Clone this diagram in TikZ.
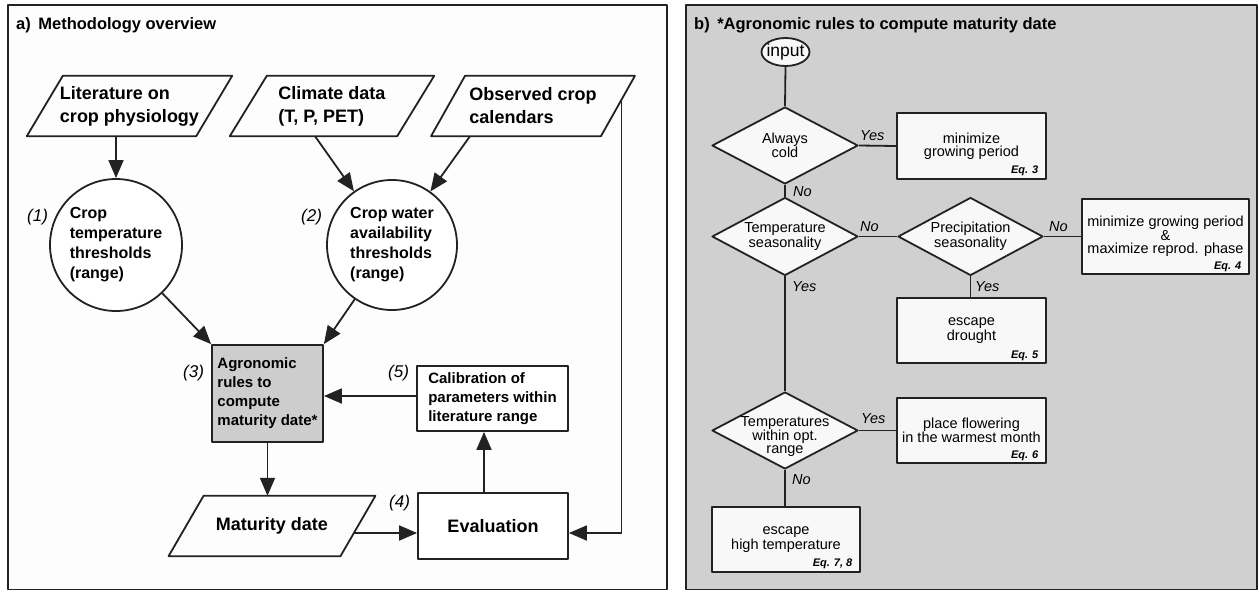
\documentclass[tikz,border=0pt]{standalone}
\usepackage{fontspec}
\setmainfont{Liberation Sans}
\usetikzlibrary{arrows.meta,shapes.geometric,calc}
\definecolor{lc}{HTML}{222222}
\definecolor{bga}{HTML}{FDFDFD}
\definecolor{bgb}{HTML}{D0D0D0}
\definecolor{agrf}{HTML}{CDCDCD}
\definecolor{boxfill}{HTML}{F8F8F8}
\newcommand\drawpara[2]{\draw[ln] ($(#1.north west)+(#2,0)$) -- ($(#1.north east)+(#2,0)$) -- ($(#1.south east)+(-#2,0)$) -- ($(#1.south west)+(-#2,0)$) -- cycle;}
\begin{document}
\begin{tikzpicture}[x=1pt,y=-1pt,line join=round,
  ln/.style={draw=lc, line width=1.8pt},
  arr/.style={ln, -{Triangle[length=18pt,width=15pt]}},
  ttl/.style={inner sep=0pt, anchor=west, font=\bfseries\fontsize{16.5}{20}\selectfont},
  ptxt/.style={rectangle, inner sep=0pt, align=left, minimum height=60pt, font=\bfseries\fontsize{18}{23}\selectfont},
  circnode/.style={circle, ln, fill=white, minimum size=132pt, inner sep=0pt, align=left, font=\bfseries\fontsize{16}{20}\selectfont},
  abox/.style={rectangle, ln, inner sep=0pt, align=left, font=\bfseries\fontsize{15}{19}\selectfont},
  lbl/.style={inner sep=0pt, anchor=west, font=\itshape\fontsize{17}{20}\selectfont},
  dia/.style={diamond, ln, fill=boxfill, minimum width=146pt, minimum height=77pt, inner sep=0pt},
  btxt/.style={inner sep=0pt, align=center, font=\fontsize{14.5}{13.3}\selectfont},
  bbox/.style={rectangle, draw=lc, line width=2pt, fill=boxfill, inner sep=0pt, align=center, font=\fontsize{14.5}{13.3}\selectfont},
  eq/.style={inner sep=0pt, anchor=base east, font=\bfseries\itshape\fontsize{11}{13}\selectfont},
  yn/.style={inner sep=0pt, anchor=west, font=\itshape\fontsize{14.5}{16}\selectfont}
]
\useasboundingbox (0,0) rectangle (1259,592);
\fill[white] (0,0) rectangle (1259,592);
% frames
\draw[draw=lc, line width=1.8pt, fill=bga] (8,5) rectangle (667,589.5);
\draw[draw=lc, line width=1.8pt, fill=bgb] (686,5) rectangle (1257,589.5);
\node[ttl] (ta) at (16,25) {a)\hspace{7.5pt}Methodology overview};
\node[ttl] (tb) at (694,25) {b)\hspace{7.5pt}*Agronomic rules to compute maturity date};

% ---------- panel a ----------
\node[ptxt, minimum width=169pt] (lit) at (129.5,106) {Literature on\\crop physiology};
\drawpara{lit}{18}
\node[ptxt, minimum width=167pt] (clim) at (332,106) {Climate data\\(T, P, PET)};
\drawpara{clim}{18.5}
\node[ptxt, minimum width=169.5pt] (obs) at (533,106) {Observed crop\\calendars};
\drawpara{obs}{17}

\node[circnode] (c1) at (116,245) {Crop\\temperature\\thresholds\\(range)};
\node[circnode, minimum size=130pt] (c2) at (392,245) {Crop water\\availability\\thresholds\\(range)};

\node[abox, fill=agrf, minimum width=111pt, minimum height=97pt] (agr) at (267.5,393.5) {Agronomic\\rules to\\compute\\maturity date*};
\node[abox, fill=white, minimum width=151pt, minimum height=65pt] (cal) at (492.5,398.5) {Calibration of\\parameters within\\literature range};

\node[ptxt, align=center, minimum width=171.5pt] (mat) at (272,526) {Maturity date};
\drawpara{mat}{17.5}
\node[ptxt, align=center, draw=lc, line width=1.8pt, fill=white, minimum width=150pt, minimum height=66pt] (ev) at (493,526) {Evaluation};

\node[lbl] (l1) at (27,217) {(1)};
\node[lbl] (l2) at (301,217) {(2)};
\node[lbl] (l3) at (183,373) {(3)};
\node[lbl] (l5) at (388,373) {(5)};
\node[lbl] (l4) at (389,503) {(4)};

\draw[arr] ($(lit.south)+(-13.5,0)$) -- (c1);
\draw[arr] ($(clim.south)+(-17,0)$) -- (c2);
\draw[arr] ($(obs.south)+(-63,0)$) -- (c2);
\draw[arr] (c1) -- (agr.north west);
\draw[arr] (c2) -- (agr.north east);
\draw[arr] (agr.south) -- (agr.south |- mat.north);
\draw[arr] ($(cal.west)+(0,-2.5)$) -- ($(cal.west -| agr.east)+(0,-2.5)$);
\draw[arr] ($(mat.east)+(-4.2,7)$) -- ($(ev.west)+(0,7)$);
\draw[arr] ($(ev.north)+(-9,0)$) -- ($(cal.south)+(-8.5,0)$);
\draw[arr] ($(obs.east)+(3.5,-6)$) |- ($(ev.east)+(0,7)$);

% ---------- panel b ----------
\node[ellipse, ln, fill=boxfill, minimum width=48pt, minimum height=28pt, inner xsep=-3pt, inner ysep=0pt, font=\fontsize{17.5}{20}\selectfont] (inp) at (785.5,52) {input};

\node[dia] (d1) at (785,145.5) {};
\node[btxt] (t1) at (d1) {Always\\cold};
\node[dia, minimum height=78pt] (d2) at (785,236.5) {};
\node[btxt] (t2) at (d2) {Temperature\\seasonality};
\node[dia, minimum width=145pt, minimum height=78pt] (d3) at (970.5,236.5) {};
\node[btxt] (t3) at (d3) {Precipitation\\seasonality};
\node[dia] (d4) at (785,430.5) {};
\node[btxt] (t4) at ($(d4.center)+(0,6)$) {Temperatures\\within opt.\\range};

\node[bbox, minimum width=149pt, minimum height=66pt] (b1) at (971.5,146) {minimize\\growing period};
\node[bbox, minimum width=167pt, minimum height=75pt] (b2) at (1165.5,236.5) {minimize growing period\\\&\\maximize reprod. phase};
\node[bbox, minimum width=149pt, minimum height=65pt] (b3) at (971.5,330.5) {escape\\drought};
\node[bbox, minimum width=149pt, minimum height=65pt] (b4) at (971.5,430.5) {place flowering\\in the warmest month};
\node[bbox, minimum width=148pt, minimum height=65pt] (b5) at (786,539.5) {escape\\high temperature};

\node[eq] (e3) at ($(b1.south east)+(-8.5,-7)$) {Eq. 3};
\node[eq] (e4) at ($(b2.south east)+(-8.5,-6)$) {Eq. 4};
\node[eq] (e5) at ($(b3.south east)+(-8.5,-6)$) {Eq. 5};
\node[eq] (e6) at ($(b4.south east)+(-8.5,-6)$) {Eq. 6};
\node[eq] (e7) at ($(b5.south east)+(-8.5,-7)$) {Eq. 7, 8};

\draw[ln] (inp.south) -- (d1.north);
\draw[ln] (d1.east) -- (b1.west);
\draw[ln] (d1.south) -- (d2.north);
\draw[ln] (d2.east) -- (d3.west);
\draw[ln] (d3.east) -- (b2.west);
\draw[ln] (d3.south) -- (d3.south |- b3.north);
\draw[ln] (d2.south) -- (d4.north);
\draw[ln] (d4.east) -- (b4.west);
\draw[ln] (d4.south) -- (d4.south |- b5.north);

\node[yn] (y1) at (860,136) {Yes};
\node[yn] (n1) at (793,192) {No};
\node[yn] (n2) at (860,227) {No};
\node[yn] (y2) at (792,287) {Yes};
\node[yn] (n3) at (1049,227) {No};
\node[yn] (y3) at (975,287) {Yes};
\node[yn] (y4) at (861,419) {Yes};
\node[yn] (n4) at (792,480) {No};
\end{tikzpicture}
\end{document}
